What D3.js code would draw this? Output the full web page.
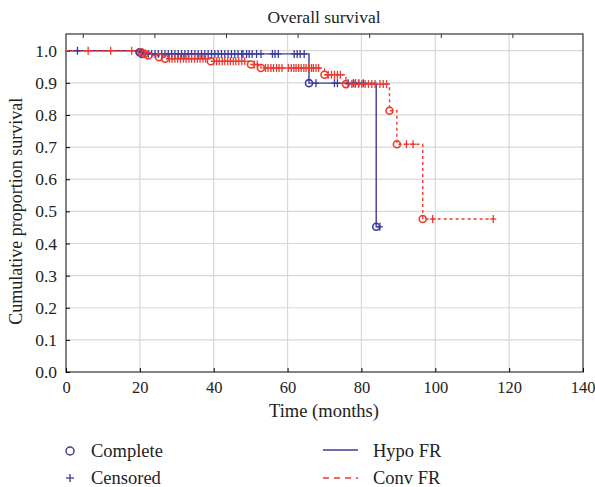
<!DOCTYPE html>
<html>
<head>
<meta charset="utf-8">
<script src="https://cdn.jsdelivr.net/npm/d3@7"></script>
<style>
  body { margin: 0; background: #fff; }
  text { font-family: "Liberation Serif", "DejaVu Serif", serif; fill: #222; }
</style>
</head>
<body>
<div id="chart"></div>
<script>
// Hypo FR: event times and survival after event
const hypoEventTimes = [19.9, 20.6, 65.8, 84.0];
const hypoEventSurv = [0.995, 0.99, 0.899, 0.452];
const hypoCensorTimes = [3.1, 22.3, 23.2, 24.1, 25.0, 25.9, 26.8, 27.7, 28.6, 29.5, 30.4, 31.3, 32.2, 33.1,
  34.0, 34.9, 35.8, 36.7, 37.6, 38.5, 39.4, 40.3, 41.2, 42.1, 43.0, 43.9, 44.8, 45.7, 46.6, 47.6, 47.9,
  48.9, 49.6, 50.4, 51.6, 52.8, 55.9, 56.6, 57.5, 61.8, 62.6, 63.4, 64.5,
  67.7, 72.7, 73.5, 76.4, 77.8, 78.4, 79.3, 80.5, 85.0];

// Conv FR
const convEventTimes = [20.4, 21.2, 22.3, 25.2, 26.8, 39.2, 50.1, 52.8, 70.0, 75.8, 87.6, 89.6, 96.6];
const convEventSurv = [0.995, 0.99, 0.985, 0.98, 0.975, 0.967, 0.957, 0.946, 0.925, 0.896, 0.813, 0.709, 0.476];
const convCensorTimes = [6.0, 12.1, 17.8,
  28.0, 28.7, 29.5, 30.2, 31.0, 31.8, 32.5, 33.3, 34.0, 34.8, 35.6, 36.3, 37.1, 37.8,
  40.0, 40.8, 41.5, 42.3, 43.0, 43.8, 44.5, 45.3, 46.0, 46.8, 47.6, 48.4,
  51.0, 51.8,
  54.0, 54.7, 55.5, 56.2, 57.0, 57.7, 58.5, 60.2, 61.0, 61.7, 62.3, 63.0, 63.7, 64.4, 65.0, 65.7, 66.5, 67.0, 67.7, 68.4,
  71.0, 71.9, 72.7, 73.5, 74.3,
  77.4, 78.3, 79.2, 80.1, 81.0, 81.9, 82.8, 83.7, 85.0, 85.9, 86.8,
  92.2, 94.0,
  99.3, 115.7];

const xTicks = [0, 20, 40, 60, 80, 100, 120, 140];
const yTicks = [0, 0.1, 0.2, 0.3, 0.4, 0.5, 0.6, 0.7, 0.8, 0.9, 1.0];

const width = 595;
const height = 487;
const m = { t: 34, r: 12, b: 115, l: 66 };

const blue = "#3b3b9e";
const red = "#ec3a2f";

const svg = d3.select("#chart").append("svg")
  .attr("width", width).attr("height", height);

const x = d3.scaleLinear().domain([0, 140]).range([m.l, width - m.r]);
const y = d3.scaleLinear().domain([0, 1.052]).range([height - m.b, m.t]);

// grid
svg.append("g").selectAll("line.gx").data(xTicks.slice(1, -1)).enter().append("line")
  .attr("x1", d => x(d)).attr("x2", d => x(d))
  .attr("y1", y.range()[0]).attr("y2", y.range()[1])
  .attr("stroke", "#d8d8d8").attr("stroke-width", 1.2);
svg.append("g").selectAll("line.gy").data(yTicks.slice(1)).enter().append("line")
  .attr("x1", x.range()[0]).attr("x2", x.range()[1])
  .attr("y1", d => y(d)).attr("y2", d => y(d))
  .attr("stroke", "#d8d8d8").attr("stroke-width", 1.2);

// frame
svg.append("rect")
  .attr("x", x.range()[0]).attr("y", m.t)
  .attr("width", x.range()[1] - x.range()[0]).attr("height", y.range()[0] - m.t)
  .attr("fill", "none").attr("stroke", "#333").attr("stroke-width", 1.2);

// axes
const xAxis = svg.append("g")
  .attr("transform", `translate(0,${y(0)})`)
  .call(d3.axisBottom(x).tickValues(xTicks).tickSize(-4).tickPadding(9).tickFormat(d3.format("d")));
xAxis.select(".domain").remove();
xAxis.selectAll("text").style("font-size", "16.5px").attr("fill", "#222")
  .filter(d => d === 140).attr("text-anchor", "end").attr("dx", "12");

const yAxis = svg.append("g")
  .attr("transform", `translate(${x(0)},0)`)
  .call(d3.axisLeft(y).tickValues(yTicks).tickSize(-4).tickPadding(9).tickFormat(d3.format(".1f")));
yAxis.select(".domain").remove();
yAxis.selectAll("text").style("font-size", "17.5px").attr("fill", "#222");

// small ticks along the top edge
const topX = d3.scaleLinear().domain([0, 7]).range([83.3, 584.5]);
svg.append("g").selectAll("line").data(d3.range(0, 7)).enter().append("line")
  .attr("x1", d => topX(d)).attr("x2", d => topX(d))
  .attr("y1", m.t).attr("y2", m.t + 4)
  .attr("stroke", "#333");

// titles
svg.append("text").attr("x", 324).attr("y", 23).attr("text-anchor", "middle")
  .style("font-size", "17.5px").text("Overall survival");
svg.append("text").attr("x", 324).attr("y", 417)
  .attr("text-anchor", "middle").style("font-size", "18.5px").text("Time (months)");
svg.append("text")
  .attr("transform", `translate(22,${(y(0) + y(1.0)) / 2}) rotate(-90)`)
  .attr("text-anchor", "middle").style("font-size", "18px").text("Cumulative proportion survival");

function survAt(times, surv, t) {
  let s = 1;
  times.forEach((et, i) => { if (et <= t) s = surv[i]; });
  return s;
}

function drawGroup(times, surv, censors, color, dash) {
  const end = Math.max(d3.max(censors), d3.max(times));
  const pts = [[0, 1]].concat(times.map((t, i) => [t, surv[i]]));
  pts.push([end, surv[surv.length - 1]]);
  const line = d3.line().x(d => x(d[0])).y(d => y(d[1])).curve(d3.curveStepAfter);
  svg.append("path").datum(pts)
    .attr("d", line).attr("fill", "none")
    .attr("stroke", color).attr("stroke-width", 1.4)
    .attr("stroke-dasharray", dash);
}

function drawMarks(times, surv, censors, color) {
  const g = svg.append("g");
  censors.forEach(c => {
    const cx = x(c), cy = y(survAt(times, surv, c));
    g.append("line").attr("x1", cx).attr("x2", cx).attr("y1", cy - 4).attr("y2", cy + 4)
      .attr("stroke", color).attr("stroke-width", 1.3);
    g.append("line").attr("x1", cx - 3).attr("x2", cx + 3).attr("y1", cy).attr("y2", cy)
      .attr("stroke", color).attr("stroke-width", 1.3);
  });
  g.selectAll("circle").data(times).enter().append("circle")
    .attr("cx", d => x(d)).attr("cy", (d, i) => y(surv[i]))
    .attr("r", 3.5).attr("fill", "none")
    .attr("stroke", color).attr("stroke-width", 1.6);
}

drawGroup(hypoEventTimes, hypoEventSurv, hypoCensorTimes, blue, null);
drawGroup(convEventTimes, convEventSurv, convCensorTimes, red, "3,3");
drawMarks(hypoEventTimes, hypoEventSurv, hypoCensorTimes, blue);
drawMarks(convEventTimes, convEventSurv, convCensorTimes, red);

// legend
const lg = svg.append("g");
lg.append("circle").attr("cx", 70).attr("cy", 451).attr("r", 4)
  .attr("fill", "none").attr("stroke", blue).attr("stroke-width", 1.5);
lg.append("text").attr("x", 91).attr("y", 457).style("font-size", "18.5px").text("Complete");
lg.append("line").attr("x1", 70).attr("x2", 70).attr("y1", 474).attr("y2", 482)
  .attr("stroke", blue).attr("stroke-width", 1.3);
lg.append("line").attr("x1", 66).attr("x2", 74).attr("y1", 478).attr("y2", 478)
  .attr("stroke", blue).attr("stroke-width", 1.3);
lg.append("text").attr("x", 91).attr("y", 484).style("font-size", "18.5px").text("Censored");
lg.append("line").attr("x1", 323).attr("x2", 358).attr("y1", 450).attr("y2", 450)
  .attr("stroke", blue).attr("stroke-width", 1.4);
lg.append("text").attr("x", 373).attr("y", 457).style("font-size", "18.5px").text("Hypo FR");
lg.append("line").attr("x1", 323).attr("x2", 358).attr("y1", 478).attr("y2", 478)
  .attr("stroke", red).attr("stroke-width", 1.4).attr("stroke-dasharray", "6,5");
lg.append("text").attr("x", 373).attr("y", 484).style("font-size", "18.5px").text("Conv FR");
</script>
</body>
</html>
